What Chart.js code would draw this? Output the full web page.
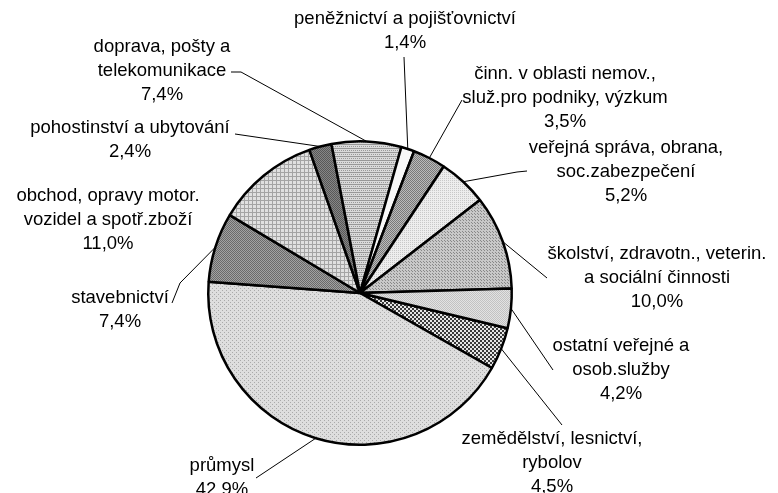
<!DOCTYPE html>
<html>
<head>
<meta charset="utf-8">
<script src="https://cdn.jsdelivr.net/npm/chart.js@4"></script>
<style>
  html, body { margin: 0; padding: 0; background: #fff; }
  #wrap { width: 778px; height: 493px; position: relative; }
</style>
</head>
<body>
<div id="wrap"><canvas id="pie"></canvas></div>
<script>
// data (CZ-NACE order, percent shares)
const categories = [
  "zemědělství, lesnictví, rybolov",
  "průmysl",
  "stavebnictví",
  "obchod, opravy motor. vozidel a spotř.zboží",
  "pohostinství a ubytování",
  "doprava, pošty a telekomunikace",
  "peněžnictví a pojišťovnictví",
  "činn. v oblasti nemov., služ.pro podniky, výzkum",
  "veřejná správa, obrana, soc.zabezpečení",
  "školství, zdravotn., veterin. a sociální činnosti",
  "ostatní veřejné a osob.služby"
];
const shares = [4.5, 42.9, 7.4, 11.0, 2.4, 7.4, 1.4, 3.5, 5.2, 10.0, 4.2];
// how each category name wraps in its label
const labelLines = [
  ["zemědělství, lesnictví,", "rybolov"],
  ["průmysl"],
  ["stavebnictví"],
  ["obchod, opravy motor.", "vozidel a spotř.zboží"],
  ["pohostinství a ubytování"],
  ["doprava, pošty a", "telekomunikace"],
  ["peněžnictví a pojišťovnictví"],
  ["činn. v oblasti nemov.,", "služ.pro podniky, výzkum"],
  ["veřejná správa, obrana,", "soc.zabezpečení"],
  ["školství, zdravotn., veterin.", "a sociální činnosti"],
  ["ostatní veřejné a", "osob.služby"]
];

// label placement: text centre x, first line y, leader points after the arc (null = no leader)
const labelPos = [
  { x: 552, y: 439, leader: [[562, 425]] },
  { x: 222, y: 466, leader: [[256, 478]] },
  { x: 120, y: 298, leader: [[180, 283], [172, 303]] },
  { x: 108, y: 196, leader: null },
  { x: 130, y: 128, leader: [[235, 134]] },
  { x: 162, y: 47, leader: [[241, 72], [231, 72]] },
  { x: 405, y: 19, leader: [[404, 57]] },
  { x: 565, y: 74, leader: [[462, 100]] },
  { x: 626, y: 148, leader: [[517, 172], [527, 171]] },
  { x: 657, y: 254, leader: [[547, 278]] },
  { x: 621, y: 346, leader: [[553, 370]] }
];

function makePattern(bg, fg, rows) {
  const c = document.createElement("canvas");
  c.width = rows[0].length;
  c.height = rows.length;
  const g = c.getContext("2d");
  g.fillStyle = bg;
  g.fillRect(0, 0, c.width, c.height);
  g.fillStyle = fg;
  rows.forEach((r, y) => {
    for (let x = 0; x < r.length; x++) {
      if (r[x] === "1") g.fillRect(x, y, 1, 1);
    }
  });
  return g.createPattern(c, "repeat");
}

const fills = [
  makePattern("#e6e6e6", "#3a3a3a", ["1100", "1100", "0011", "0011"]),
  makePattern("#dedede", "#aaaaaa", ["1000", "0000", "0010", "0000"]),
  makePattern("#a2a2a2", "#6a6a6a", ["10", "01"]),
  makePattern("#e0e0e0", "#a4a4a4", ["1111", "1000", "1000", "1000"]),
  makePattern("#868686", "#585858", ["10", "01"]),
  makePattern("#dadada", "#989898", ["1111", "0000", "0101", "0000"]),
  "#f8f8f8",
  makePattern("#bbbbbb", "#7a7a7a", ["10", "01"]),
  makePattern("#ededed", "#c8c8c8", ["10", "00"]),
  makePattern("#c8c8c8", "#888888", ["100", "010", "000"]),
  makePattern("#e2e2e2", "#c2c2c2", ["10", "01"])
];

const FONT = '18.5px "Liberation Sans", Arial, sans-serif';
const LINE_H = 24;

const pieLabels = {
  id: "pieLabels",
  afterDatasetsDraw(chart) {
    const ctx = chart.ctx;
    const arcs = chart.getDatasetMeta(0).data;
    ctx.save();
    ctx.font = FONT;
    ctx.fillStyle = "#000";
    ctx.textAlign = "center";
    ctx.textBaseline = "middle";
    arcs.forEach((arc, i) => {
      const p = labelPos[i];
      const mid = (arc.startAngle + arc.endAngle) / 2;
      if (p.leader) {
        ctx.beginPath();
        ctx.lineWidth = 1;
        ctx.strokeStyle = "#000";
        ctx.moveTo(arc.x + Math.cos(mid) * arc.outerRadius, arc.y + Math.sin(mid) * arc.outerRadius);
        p.leader.forEach(pt => ctx.lineTo(pt[0], pt[1]));
        ctx.stroke();
      }
      const lines = labelLines[i].concat([shares[i].toFixed(1).replace(".", ",") + "%"]);
      lines.forEach((t, k) => ctx.fillText(t, p.x, p.y + k * LINE_H));
    });
    ctx.restore();
  }
};

new Chart(document.getElementById("pie"), {
  type: "pie",
  data: {
    labels: categories,
    datasets: [{
      data: shares,
      backgroundColor: fills,
      borderColor: "#000",
      borderWidth: 2.5
    }]
  },
  options: {
    responsive: true,
    maintainAspectRatio: false,
    animation: false,
    rotation: 103.4,
    layout: { padding: { top: 140, bottom: 47, left: 207, right: 265 } },
    plugins: {
      legend: { display: false },
      tooltip: { enabled: false }
    }
  },
  plugins: [pieLabels]
});
</script>
</body>
</html>
